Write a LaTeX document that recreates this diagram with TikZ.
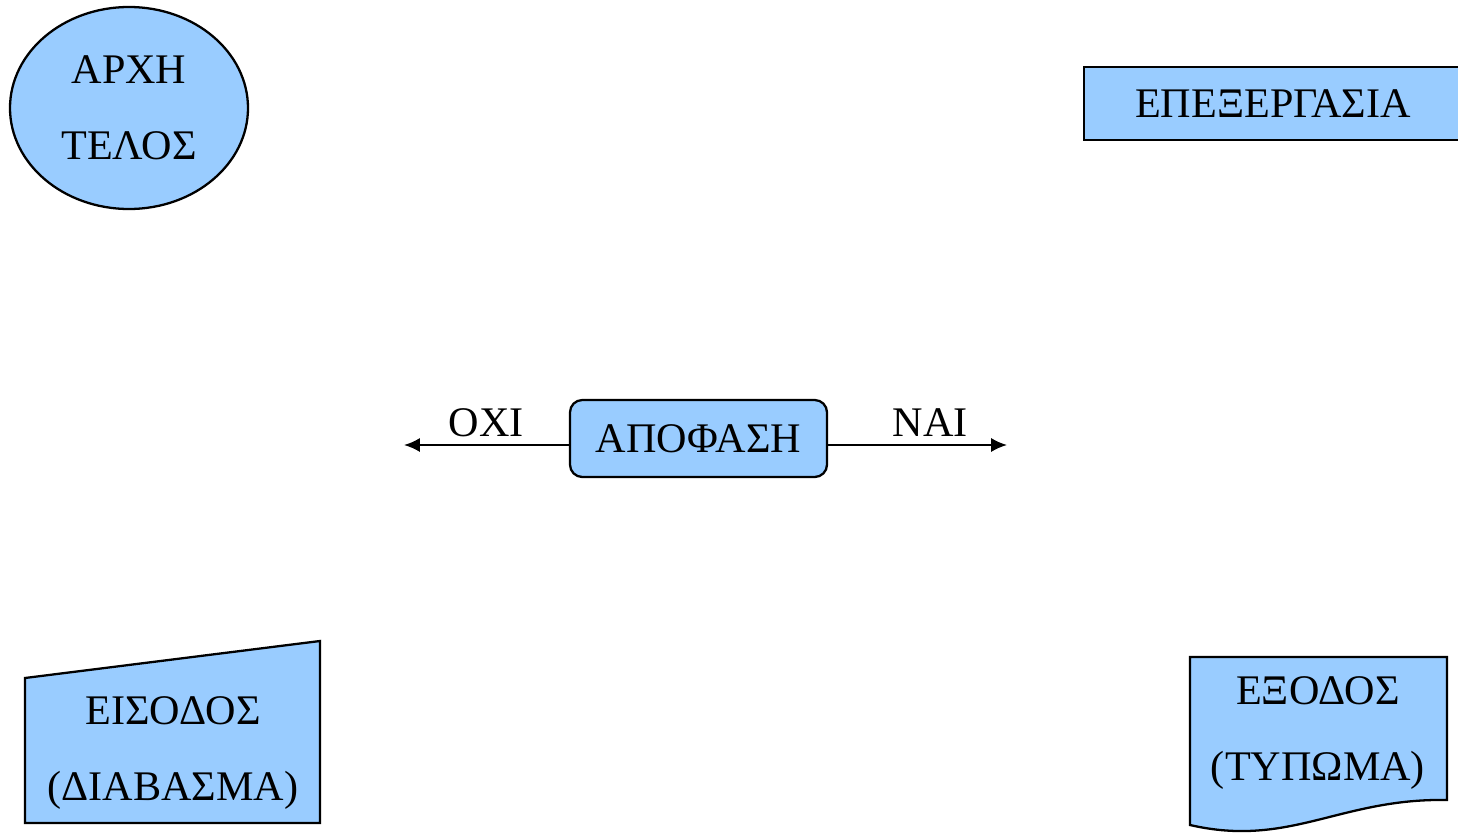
\documentclass[tikz,border=0pt]{standalone}
\usepackage{fontspec}
\setmainfont{Liberation Serif}
\usepackage{xcolor}
\usepackage{tikz}
\usetikzlibrary{arrows.meta}
\usetikzlibrary{shapes.geometric}
\definecolor{boxblue}{HTML}{99CCFF}

\begin{document}
\begin{tikzpicture}[x=0.02cm,y=-0.02cm,
    box/.style={draw,fill=boxblue,line width=1.3pt},
    txt/.style={align=center,inner sep=0pt,font=\fontsize{24}{43}\selectfont}]
    \useasboundingbox (0,0) rectangle (1458,835);
    % terminal
    \node[box,txt,ellipse,minimum width=238*0.02cm,minimum height=202*0.02cm] (start) at (129,108) {ΑΡΧΗ\\ΤΕΛΟΣ};
    % process
    \node[box,txt,minimum width=378*0.02cm,minimum height=73*0.02cm] (process) at (1273,103.5) {ΕΠΕΞΕΡΓΑΣΙΑ};
    % decision
    \node[box,txt,rounded corners=7pt,minimum width=257*0.02cm,minimum height=77*0.02cm] (decision) at (698.5,438.5) {ΑΠΟΦΑΣΗ};
    \coordinate (no) at (404,445);
    \coordinate (yes) at (1007,445);
    \draw[-{Latex[length=9pt,width=8pt]},line width=1.2pt] (decision.west |- no) to node[txt,above=4pt,pos=0.5]{ΟΧΙ} (no);
    \draw[-{Latex[length=9pt,width=8pt]},line width=1.2pt] (decision.east |- yes) to node[txt,above=4pt,pos=0.57]{ΝΑΙ} (yes);
    % input
    \draw[box] (25,678) -- (320,641) -- (320,823) -- (25,823) -- cycle;
    \node[txt] (input) at (173,753) {ΕΙΣΟΔΟΣ\\(ΔΙΑΒΑΣΜΑ)};
    % output
    \draw[box] (1190,657) -- (1447,657) -- (1447,800) .. controls (1340,798) and (1290,848) .. (1190,825) -- cycle;
    \node[txt] (output) at (1318,733) {ΕΞΟΔΟΣ\\(ΤΥΠΩΜΑ)};
  \end{tikzpicture}
\end{document}
